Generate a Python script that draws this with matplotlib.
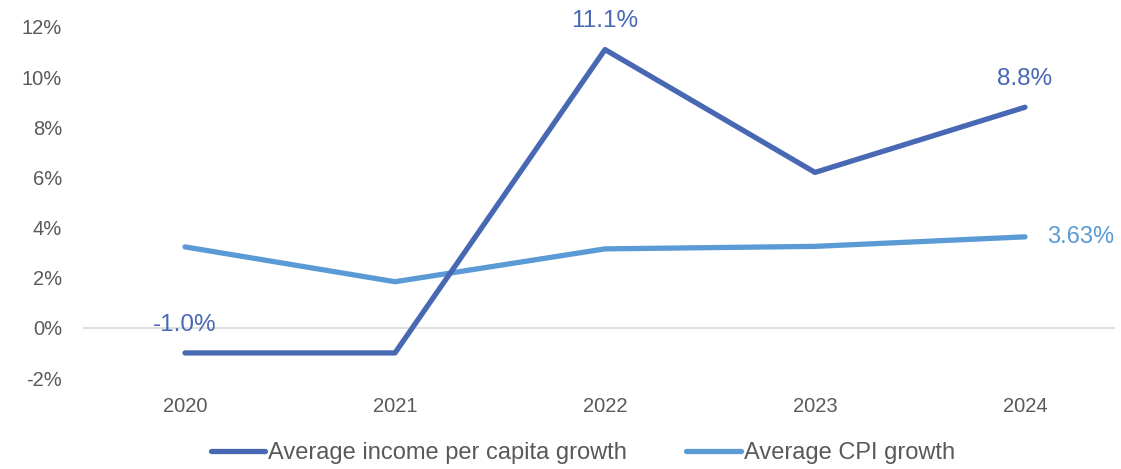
import matplotlib
matplotlib.use("Agg")
import matplotlib.pyplot as plt
from matplotlib.ticker import FuncFormatter

plt.rcParams['font.family'] = ['Liberation Sans', 'DejaVu Sans']

years = ["2020", "2021", "2022", "2023", "2024"]
income_growth = [-1.0, -1.0, 11.1, 6.2, 8.8]
cpi_growth = [3.23, 1.84, 3.15, 3.25, 3.63]
income_labels = {0: "-1.0%", 2: "11.1%", 4: "8.8%"}
cpi_labels = {4: "3.63%"}

c_income = "#4868B4"
c_cpi = "#5B9BD5"
c_text = "#595959"

fig = plt.figure(figsize=(11.21, 4.69), dpi=100)
ax = fig.add_axes([83/1121, 1-378/469, (1115-83)/1121, (378-27)/469])

x = list(range(len(years)))
ax.plot(x, income_growth, color=c_income, lw=3.8, solid_capstyle='round',
        solid_joinstyle='round', label="Average income per capita growth", zorder=3)
ax.plot(x, cpi_growth, color=c_cpi, lw=3.8, solid_capstyle='round',
        solid_joinstyle='round', label="Average CPI growth", zorder=2)

for i, t in income_labels.items():
    ax.annotate(t, (x[i], income_growth[i]), xytext=(0, 16), textcoords='offset points',
                ha='center', va='baseline', color=c_income, fontsize=17.5)
for i, t in cpi_labels.items():
    ax.annotate(t, (x[i], cpi_growth[i]), xytext=(16, 0), textcoords='offset points',
                ha='left', va='center', color=c_cpi, fontsize=17)

ax.axhline(0, color="#D9D9D9", lw=1.2, zorder=1)
ax.set_ylim(-2, 12)
ax.set_yticks(range(-2, 13, 2))
ax.yaxis.set_major_formatter(FuncFormatter(lambda v, p: f"{int(v)}%"))
ax.set_xlim((83-185)/210, (1115-185)/210)
ax.set_xticks(x)
ax.set_xticklabels(years)
ax.tick_params(axis='both', length=0, labelsize=14.5, colors=c_text)
ax.tick_params(axis='x', pad=14)
ax.tick_params(axis='y', pad=15)
for s in ax.spines.values():
    s.set_visible(False)

leg = fig.legend(loc='center', bbox_to_anchor=(583/1121, 1-453/469), ncol=2, frameon=False,
                 fontsize=17, handlelength=2.3, handletextpad=0.13, columnspacing=2.5,
                 labelcolor=c_text)

fig.savefig("out.png", dpi=100)
